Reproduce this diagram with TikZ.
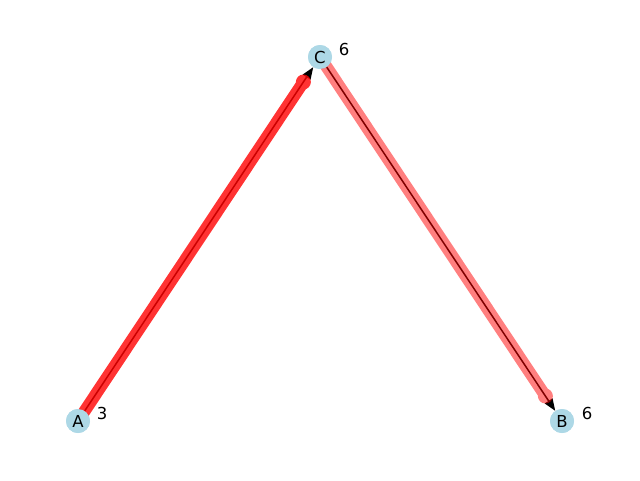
\documentclass[tikz,border=0pt]{standalone}
\usepackage{fontspec}
\setmainfont{DejaVu Sans}
\usetikzlibrary{arrows.meta,calc}
\definecolor{nodeblue}{HTML}{ADD8E6}
\tikzset{
  vert/.style={circle,fill=nodeblue,inner sep=0pt,minimum size=24pt,font=\fontsize{16.5}{16.5}\selectfont},
  wt/.style={font=\fontsize{16.5}{16.5}\selectfont,anchor=center},
  hl/.style={line width=12pt,line cap=round,draw=red},
  arr/.style={draw=black,line width=1.5pt,-{Triangle[length=12pt,width=9pt]}},
}
\begin{document}
\begin{tikzpicture}[x=1pt,y=-1pt]
\useasboundingbox (0,0) rectangle (640,480);
\coordinate (pA) at (78,421);
\coordinate (pC) at (320,57);
\coordinate (pB) at (562,421);
% nodes
\node[vert] (A) at (pA) {};
\node[vert] (C) at (pC) {};
\node[vert] (B) at (pB) {};
% arrows
\draw[arr] (A) -- (C);
\draw[arr] (C) -- (B);
% highlight edges
\begin{scope}[opacity=0.8,transparency group]
\draw[hl] ($(pA)!8pt!(pC)$) -- ($(pC)!31pt!(pA)$);
\fill[red] ($(pC)!30pt!(pA)$) circle (7.5pt);
\end{scope}
\begin{scope}[opacity=0.5,transparency group]
\draw[hl] ($(pC)!8pt!(pB)$) -- ($(pB)!31pt!(pC)$);
\fill[red] ($(pB)!30pt!(pC)$) circle (7.5pt);
\end{scope}
% redraw nodes on top
\fill[nodeblue] (pA) circle (12pt);
\fill[nodeblue] (pC) circle (12pt);
\fill[nodeblue] (pB) circle (12pt);
\node[vert,fill=none] at (pA) {A};
\node[vert,fill=none] at (pC) {C};
\node[vert,fill=none] at (pB) {B};
% weights
\node[wt] (wA) at (102,413) {3};
\node[wt] (wC) at (344,49) {6};
\node[wt] (wB) at (587,413) {6};
\end{tikzpicture}
\end{document}
